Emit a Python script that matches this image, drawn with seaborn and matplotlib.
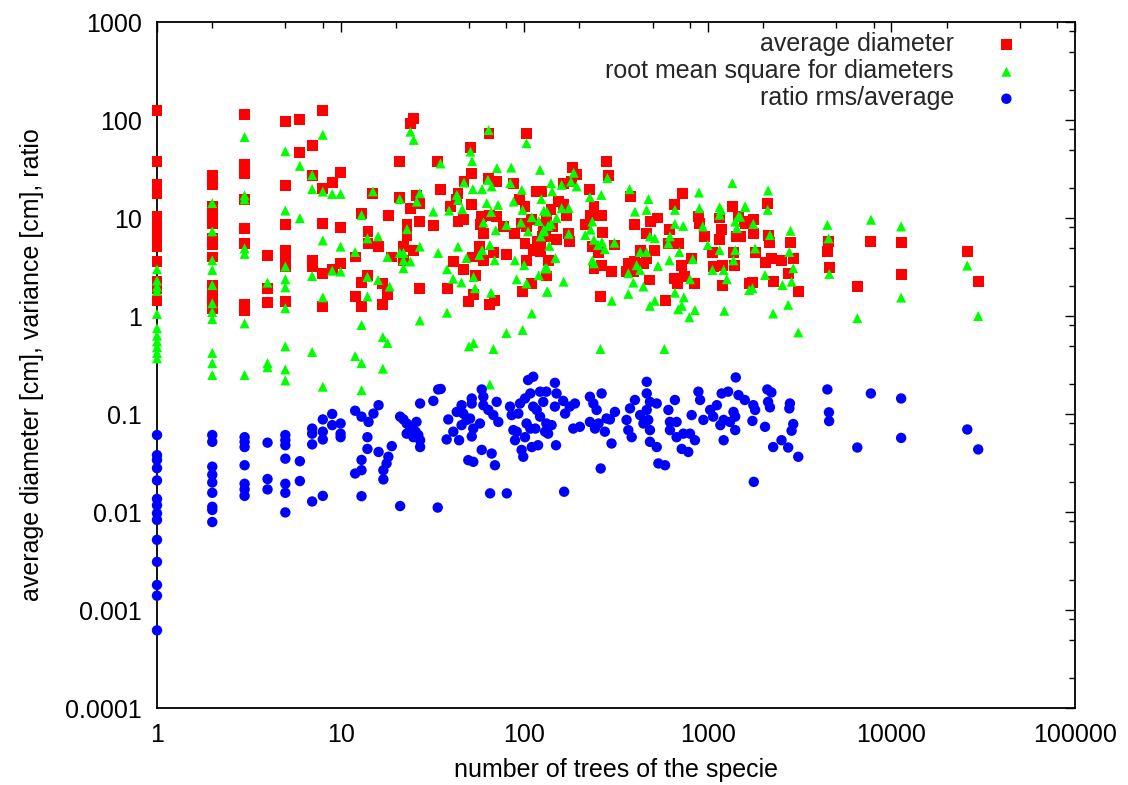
import matplotlib
matplotlib.use("Agg")
import matplotlib.pyplot as plt
import pandas as pd
import seaborn as sns
from matplotlib.ticker import FixedLocator, FixedFormatter, NullFormatter

# (number of trees of the specie, average diameter [cm])
avg_diameter = [
    (1, 125), (1, 37.7), (1, 21.8), (1, 17.9), (1, 10.3), (1, 8.2), (1, 6.5), (1, 5.1), (1, 3.6), (1, 2.24), (1, 1.92), (1, 1.43),
    (2, 26.9), (2, 22.1), (2, 13.1), (2, 10.7), (2, 8.85), (2, 6.2), (2, 5.3), (2, 4.0), (2, 2.07), (2, 1.71), (2, 1.40), (2, 1.2),
    (3, 113), (3, 34.9), (3, 28.7), (3, 15.3), (3, 7.9), (3, 5.5), (3, 1.3), (3, 1.13),
    (4, 4.13), (4, 1.89), (4, 1.37),
    (5, 96.6), (5, 21.4), (5, 8.5), (5, 4.7), (5, 3.9), (5, 3.2), (5, 1.4),
    (6, 102), (6, 46.6),
    (7, 54.5), (7, 26.9), (7, 3.73), (7, 3.19),
    (8, 125), (8, 20.2), (8, 8.85), (8, 2.73), (8, 1.24),
    (9, 23), (9, 2.95),
    (10, 29.1), (10, 8.05), (10, 3.45),
    (24.9, 104), (23.9, 93), (64.3, 73.5), (103, 73.5), (51, 52.9), (21, 37.7), (33.8, 37.7), (51.8, 28.7), (47, 23.5),
    (64, 25.5), (71, 23.5), (87.5, 22.7), (124, 18.7), (35, 19.4), (15, 17.9), (21, 16.3), (26, 16.8), (27, 14.2),
    (43.6, 17.9), (42.8, 15.4), (39.5, 13.1), (51.8, 13.6), (23.9, 12.6), (18.2, 10.5), (13, 11.2), (27, 9.2), (23, 8.5),
    (23, 6.7), (32, 8.3), (43.6, 9.2), (46.6, 9.6), (58.7, 10.3), (65, 10.7), (60, 7.0), (71, 10.3), (77, 8.2), (89, 7.0),
    (97, 8.85), (103, 8.2), (94.5, 15.3), (101, 13.1), (117, 18.7), (14.1, 7.3), (14.1, 5.5), (16, 5.1), (22, 5.1),
    (25, 4.7), (19, 4.0), (12, 4.0), (22, 3.7), (41, 3.6), (46.6, 2.95), (52, 4.0), (57, 5.1), (68, 4.4), (80, 4.2),
    (60, 3.7), (14, 2.6), (13, 2.2), (17, 2.15), (27, 1.92), (38, 1.92), (12, 1.58), (13, 1.24), (17, 1.3), (18, 1.64),
    (49.5, 1.4), (52.8, 1.64), (65, 1.3), (69, 1.45), (98, 1.77), (110, 2.15), (54, 2.6), (101, 5.5), (112, 4.7),
    (122, 5.1), (130, 6.5), (103, 3.7), (115, 4.8), (118, 5.8), (58, 8.5), (110, 9.6), (127, 8.2), (133, 10.4),
    (282, 37.7), (183, 32.7), (193, 27.5), (287, 26.9), (164, 22.7), (180, 23.5), (153, 14.7), (164, 13.6), (228, 19.4),
    (240, 13.1), (230, 10.7), (263, 10.5), (140, 12.1), (170, 10.7), (215, 8.5), (128, 8.5), (142, 8.2), (150, 6.0),
    (176, 5.7), (175, 7.0), (125, 6.5), (123, 4.5), (135, 3.7), (132, 2.56), (268, 7.1), (235, 5.1), (255, 4.4),
    (240, 3.07), (265, 3.3), (300, 2.83), (310, 5.3), (260, 1.58), (378, 16.5), (400, 8.5), (485, 9.2), (535, 10.0),
    (465, 7.0), (428, 4.7), (464, 3.9), (515, 4.7), (369, 3.45), (401, 3.6), (446, 3.45), (484, 2.33), (393, 2.84),
    (361, 2.84), (730, 17.9), (660, 13.6), (622, 7.6), (610, 5.5), (690, 5.5), (721, 3.3), (662, 2.43), (751, 2.52),
    (851, 2.16), (817, 3.88), (682, 2.16), (585, 1.45), (895, 10.3), (900, 8.85), (960, 6.5), (1060, 4.4), (1070, 3.2),
    (1160, 10), (1190, 7.6), (1160, 6.1), (1360, 13.1), (1430, 6.5), (1470, 10.3), (1600, 8.85), (1380, 4.4),
    (1400, 3.3), (1200, 3.3), (1200, 2.07), (1680, 2.15),
    (2120, 14.2), (1590, 9.2), (1770, 9.6), (1500, 6.5), (1770, 7.0), (2130, 6.7), (2180, 5.6), (2820, 5.6), (1810, 4.4),
    (2220, 3.9), (2050, 3.5), (2520, 3.7), (2920, 3.9), (2740, 2.69), (2270, 2.24), (1750, 2.19), (3110, 1.77),
    (4570, 5.7), (4490, 4.6), (4620, 3.14), (7710, 5.7), (11400, 5.6), (11300, 2.63), (6550, 2.0), (26000, 4.54),
    (29900, 2.24),
]

# (number of trees of the specie, root mean square for diameters [cm])
rms_diameter = [
    (1, 3.0), (1, 2.3), (1, 2.0), (1, 1.8), (1, 1.05), (1, 0.75), (1, 0.63), (1, 0.55), (1, 0.48), (1, 0.42), (1, 0.37),
    (2, 14.2), (2, 7.3), (2, 3.7), (2, 2.95), (2, 2.07), (2, 1.35), (2, 1.1), (2, 0.93), (2, 0.42), (2, 0.33), (2, 0.25),
    (3, 67), (3, 17), (3, 15.5), (3, 4.9), (3, 4.3), (3, 0.84), (3, 0.25),
    (4, 2.19), (4, 0.33), (4, 0.30),
    (5, 48), (5, 11.9), (5, 3.2), (5, 2.37), (5, 1.96), (5, 1.2), (5, 0.49), (5, 0.285), (5, 0.22),
    (6, 34), (6, 9.96),
    (7, 27.5), (7, 19.7), (7, 2.56), (7, 0.43),
    (8, 70.6), (8, 18.6), (8, 5.9), (8, 1.55), (8, 0.19),
    (9, 17.6), (9, 2.9),
    (10, 17.6), (10, 5.1), (10, 2.84),
    (24, 76), (25, 62.7), (64, 79), (103, 58), (51, 47.6), (52, 38), (35, 36), (71, 32.3), (85, 32.7), (122, 31),
    (47, 23), (63.5, 24.5), (66.5, 21), (84, 22.7), (97, 19.4), (59, 19.7), (52.5, 19.7), (15, 18.7), (27, 17.9),
    (26, 14.7), (21, 15.6), (43, 17.2), (43.6, 15.3), (46, 12.3), (39, 11.9), (32, 11.6), (124, 15.6), (87.5, 14.7),
    (72, 13.6), (62.5, 14.2), (98, 12.1), (133, 11.6), (13, 10.7), (60, 9.0), (66, 11.5), (80, 8.5), (70, 7.5),
    (96, 9.0), (110, 10.2), (120, 9.3), (105, 7.3), (128, 7.3), (135, 8.3), (23, 7.7), (16, 6.5), (14, 6.2), (12, 4.5),
    (18, 4.0), (21, 4.4), (22, 4.4), (22, 3.7), (24, 3.6), (22, 3.07), (27, 5.1), (34, 4.4), (43.6, 5.1), (38, 3.0),
    (48.5, 3.9), (53, 2.5), (41, 2.4), (45.5, 2.2), (59, 4.7), (57, 4.2), (65, 5.3), (69, 3.7), (89, 3.7), (100, 3.3),
    (91, 2.37), (103, 2.15), (120, 2.6), (133, 3.07), (133, 1.77), (54, 1.92), (66, 1.73), (16, 2.33), (18.5, 2.0),
    (14, 2.5), (14, 1.58), (38, 1.08), (27, 0.9), (110, 1.06), (98, 0.72), (80, 0.67), (13, 0.81), (17, 0.61),
    (18, 0.53), (12, 0.39), (13, 0.33), (17, 0.29), (50, 0.49), (53, 0.53), (68, 0.46), (13, 0.175), (65, 0.2),
    (186, 29), (180, 23.5), (193, 21), (284, 25.5), (140, 22.7), (160, 21.8), (142, 18.7), (228, 16.3), (263, 17.2),
    (375, 19.7), (475, 15.6), (128, 11.9), (160, 12.6), (175, 12.6), (150, 10.0), (140, 8.7), (235, 9.2), (215, 6.7),
    (175, 6.9), (230, 7.6), (240, 6.0), (123, 6.5), (128, 7.6), (137, 5.2), (148, 3.9), (130, 3.07), (164, 2.24),
    (134, 1.77), (253, 5.3), (275, 4.8), (310, 5.6), (265, 5.7), (235, 3.7), (240, 3.45), (300, 1.43), (260, 0.46),
    (401, 11.6), (464, 12.1), (484, 6.5), (515, 6.2), (428, 4.5), (464, 4.5), (410, 3.3), (428, 2.95), (369, 2.73),
    (393, 2.19), (446, 2.0), (535, 3.24), (369, 1.68), (484, 1.27), (515, 1.43), (580, 0.46), (662, 12.1), (735, 8.3),
    (662, 8.7), (622, 6.5), (610, 5.5), (700, 4.5), (618, 3.7), (662, 1.73), (741, 1.55), (721, 1.27), (690, 1.17),
    (793, 0.97), (851, 1.15), (800, 2.37), (828, 3.8), (895, 18.2), (900, 12.6), (940, 8.2), (1000, 5.3), (1060, 2.95),
    (1360, 22.7), (1600, 13.1), (1160, 12.9), (1180, 12.1), (1160, 10.8), (1410, 9.2), (1470, 10.4), (1440, 7.9),
    (1410, 4.7), (1380, 3.7), (1220, 2.95), (1270, 2.37), (1160, 4.7), (1230, 1.13), (1680, 1.84),
    (2130, 19.1), (1590, 12.9), (2120, 12.1), (1770, 8.7), (1500, 10.3), (2820, 7.4), (2180, 6.7), (1810, 4.9),
    (2780, 4.5), (2920, 3.07), (2050, 2.62), (2550, 2.07), (2860, 2.24), (1750, 1.92), (2740, 1.3), (2270, 1.06),
    (3110, 0.68), (4480, 8.5), (4550, 6.2), (4590, 2.69), (6520, 0.95), (7740, 9.6), (11300, 8.2), (11300, 1.54),
    (25900, 3.27), (29700, 1.0),
]

# (number of trees of the specie, ratio rms/average)
ratio_rms_avg = [
    (1, 0.061), (1, 0.038), (1, 0.034), (1, 0.028), (1, 0.021), (1, 0.0136), (1, 0.0117), (1, 0.0097), (1, 0.0083),
    (1, 0.0052), (1, 0.0031), (1, 0.0018), (1, 0.0014), (1, 0.00062),
    (2, 0.061), (2, 0.052), (2, 0.029), (2, 0.024), (2, 0.020), (2, 0.0157), (2, 0.0113), (2, 0.0105), (2, 0.0079),
    (3, 0.058), (3, 0.052), (3, 0.046), (3, 0.030), (3, 0.0194), (3, 0.017), (3, 0.0146),
    (4, 0.051), (4, 0.0217), (4, 0.017),
    (5, 0.061), (5, 0.054), (5, 0.048), (5, 0.035), (5, 0.0194), (5, 0.0157), (5, 0.0099),
    (6, 0.033), (6, 0.0207),
    (7, 0.071), (7, 0.063), (7, 0.049), (7, 0.0128),
    (8, 0.088), (8, 0.066), (8, 0.055), (8, 0.0146),
    (9, 0.1), (9, 0.077),
    (10, 0.08), (10, 0.063), (10, 0.058),
    (12.0, 0.108), (13.0, 0.094), (14.2, 0.083), (15.1, 0.101), (16.1, 0.123), (14.0, 0.058), (14.0, 0.044),
    (16.1, 0.041), (13.0, 0.034), (13.0, 0.0267), (12.0, 0.0247), (17.1, 0.0267), (17.1, 0.0215), (18.2, 0.0366),
    (17.8, 0.0313), (19.0, 0.047), (21.1, 0.094), (22.9, 0.080), (24.4, 0.071), (22.9, 0.063), (24.9, 0.058),
    (27.1, 0.054), (27.1, 0.046), (25.9, 0.083), (27.1, 0.128), (32, 0.136), (34, 0.178), (13.0, 0.0145),
    (21.1, 0.0115), (33.8, 0.0111), (22.0, 0.088), (23.8, 0.076), (24.2, 0.068), (25.6, 0.066), (26.5, 0.061),
    (35.1, 0.180), (38.6, 0.088), (37.8, 0.055), (44.2, 0.054), (41.1, 0.066), (42.9, 0.105), (45.6, 0.123),
    (46.6, 0.101), (48.6, 0.087), (51.8, 0.144), (51.8, 0.128), (45.6, 0.077), (50.7, 0.090), (58.7, 0.178),
    (59.9, 0.150), (63.8, 0.110), (59.9, 0.123), (67.9, 0.0975), (72.3, 0.083), (70.8, 0.133), (57.4, 0.080),
    (52.8, 0.071), (51.8, 0.059), (83.7, 0.119), (85.5, 0.0975), (94.9, 0.128), (101, 0.144), (108, 0.162),
    (105, 0.222), (112, 0.240), (122, 0.169), (132, 0.169), (147, 0.208), (150, 0.162), (163, 0.136), (147, 0.119),
    (127, 0.133), (117, 0.110), (112, 0.119), (122, 0.094), (132, 0.080), (141, 0.077), (130, 0.066), (135, 0.063),
    (103, 0.080), (108, 0.071), (91.0, 0.066), (89.1, 0.054), (101, 0.058), (115, 0.071), (96.8, 0.043),
    (98.8, 0.0366), (110, 0.046), (119, 0.048), (149, 0.048), (167, 0.101), (177, 0.119), (189, 0.128), (185, 0.071),
    (201, 0.074), (228, 0.150), (238, 0.128), (248, 0.110), (264, 0.162), (228, 0.083), (243, 0.071), (254, 0.080),
    (281, 0.090), (293, 0.088), (275, 0.066), (312, 0.105), (299, 0.050), (261, 0.0278), (377, 0.114), (401, 0.139),
    (361, 0.087), (369, 0.0685), (385, 0.058), (428, 0.0975), (446, 0.080), (465, 0.110), (465, 0.213), (465, 0.162),
    (484, 0.133), (527, 0.128), (474, 0.087), (484, 0.0685), (484, 0.052), (527, 0.046), (538, 0.0313), (585, 0.030),
    (610, 0.110), (622, 0.083), (662, 0.139), (676, 0.083), (622, 0.0685), (676, 0.058), (736, 0.063), (800, 0.063),
    (721, 0.044), (783, 0.041), (851, 0.054), (817, 0.0975), (889, 0.169), (908, 0.139), (946, 0.087), (1030, 0.110),
    (1120, 0.123), (1070, 0.094), (1190, 0.162), (1290, 0.169), (1220, 0.087), (1220, 0.054), (1170, 0.077),
    (65.2, 0.0155), (80.4, 0.0155), (165, 0.0161), (49.6, 0.0338), (52.8, 0.0325), (58.7, 0.043), (66.5, 0.0395),
    (69.3, 0.030), (87.3, 0.0685), (92.9, 0.101),
    (1420, 0.236), (1470, 0.156), (1590, 0.139), (1380, 0.105), (1410, 0.094), (1320, 0.083), (1410, 0.0685),
    (1770, 0.123), (1810, 0.110), (1750, 0.085), (2110, 0.178), (2220, 0.166), (2130, 0.133), (2180, 0.117),
    (2050, 0.074), (2520, 0.054), (2270, 0.046), (2740, 0.0455), (3110, 0.0366), (2800, 0.128), (2780, 0.114),
    (2920, 0.079), (2860, 0.0675), (1780, 0.0203), (4480, 0.178), (4570, 0.104), (4580, 0.0846), (7730, 0.162),
    (11300, 0.144), (11300, 0.057), (6520, 0.0455), (25900, 0.0695), (29700, 0.0435),
]

series_labels = ["average diameter", "root mean square for diameters", "ratio rms/average"]
series_colors = ["#ff0000", "#00ff00", "#0000ff"]
series_markers = ["s", "^", "o"]
series_sizes = [62, 52, 56]

x_ticks = [1, 10, 100, 1000, 10000, 100000]
x_tick_labels = ["1", "10", "100", "1000", "10000", "100000"]
y_ticks = [0.0001, 0.001, 0.01, 0.1, 1, 10, 100, 1000]
y_tick_labels = ["0.0001", "0.001", "0.01", "0.1", "1", "10", "100", "1000"]

sns.set_theme(style="white")
plt.rcParams["font.family"] = ["Liberation Sans", "DejaVu Sans"]

fig = plt.figure(figsize=(11.28, 7.85), dpi=100)
ax = fig.add_axes([157 / 1128, (785 - 708) / 785, 918 / 1128, 686 / 785])

for pts, lab, col, mk, sz in zip([avg_diameter, rms_diameter, ratio_rms_avg],
                                 series_labels, series_colors, series_markers, series_sizes):
    df = pd.DataFrame(pts, columns=["trees", "value"])
    sns.scatterplot(data=df, x="trees", y="value", marker=mk, color=col, s=sz,
                    linewidth=0, edgecolor="none", clip_on=False, label=lab, ax=ax, zorder=3)

ax.set_xscale("log")
ax.set_yscale("log")
ax.set_xlim(1, 100000)
ax.set_ylim(0.0001, 1000)

ax.xaxis.set_major_locator(FixedLocator(x_ticks))
ax.xaxis.set_major_formatter(FixedFormatter(x_tick_labels))
ax.xaxis.set_minor_locator(FixedLocator([m * 10.0 ** k for k in range(0, 5) for m in (2, 5, 8)]))
ax.xaxis.set_minor_formatter(NullFormatter())
ax.yaxis.set_major_locator(FixedLocator(y_ticks))
ax.yaxis.set_major_formatter(FixedFormatter(y_tick_labels))
ax.yaxis.set_minor_locator(FixedLocator([m * 10.0 ** k for k in range(-4, 3) for m in (2, 5, 8)]))
ax.yaxis.set_minor_formatter(NullFormatter())

ax.tick_params(which="both", direction="in", top=True, right=True, color="black", width=1.0)
ax.tick_params(which="major", length=7.2, labelsize=18, pad=11, labelcolor="black")
ax.tick_params(which="minor", length=4)

for sp in ax.spines.values():
    sp.set_visible(True)
    sp.set_color("black")
    sp.set_linewidth(1.3)

ax.set_xlabel("number of trees of the specie", fontsize=18, labelpad=8, color="black")
ax.set_ylabel("average diameter [cm], variance [cm], ratio", fontsize=18, labelpad=15, color="black")

handles, labels = ax.get_legend_handles_labels()
ax.legend(handles, labels, loc="upper right", bbox_to_anchor=(0.9525, 0.985),
          borderaxespad=0, borderpad=0, frameon=False, markerfirst=False,
          handletextpad=1.1, handlelength=2.0, labelspacing=0.12, fontsize=18)

fig.savefig("out.png", dpi=100, facecolor="white")
